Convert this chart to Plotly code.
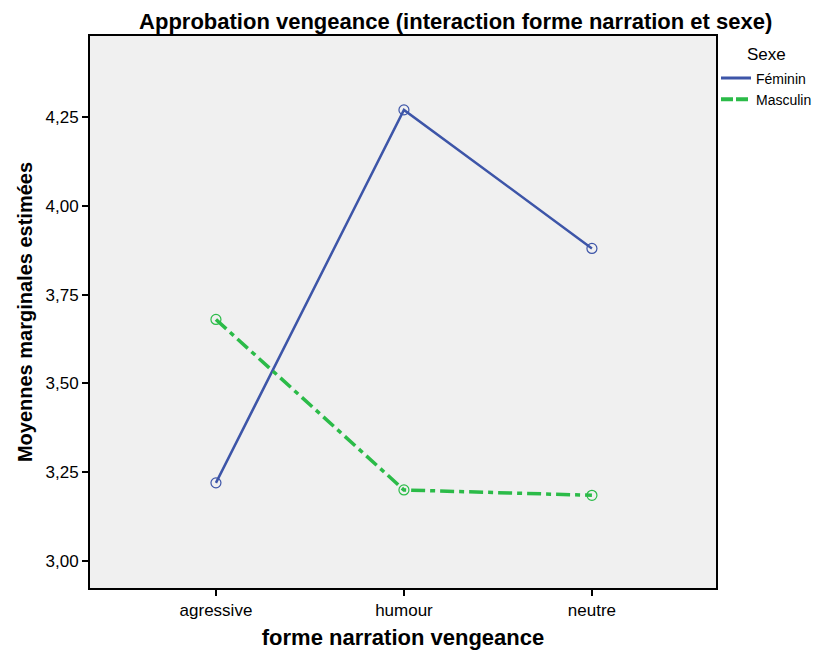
import plotly.graph_objects as go

# Estimated marginal means
categories = ['agressive', 'humour', 'neutre']
feminin = [3.22, 4.27, 3.88]
masculin = [3.68, 3.20, 3.185]
y_ticks = [3.00, 3.25, 3.50, 3.75, 4.00, 4.25]
y_tick_labels = ['3,00', '3,25', '3,50', '3,75', '4,00', '4,25']

font = 'Liberation Sans, Arial, sans-serif'
blue = '#3d55a8'
green = '#2bbb48'
green_dash = '14px,5px,5px,5px'

fig = go.Figure()

fig.add_trace(go.Scatter(
    x=[0, 1, 2], y=feminin, name='Féminin', mode='lines+markers', showlegend=False,
    line=dict(color=blue, width=2.5),
    marker=dict(symbol='circle-open', size=10, color=blue, line=dict(width=1.2)),
))
fig.add_trace(go.Scatter(
    x=[0, 1, 2], y=masculin, name='Masculin', mode='lines+markers', showlegend=False,
    line=dict(color=green, width=3.5, dash=green_dash),
    marker=dict(symbol='circle-open', size=10, color=green, line=dict(width=1.2)),
))
# legend entries show only the line style
fig.add_trace(go.Scatter(x=[None], y=[None], name='Féminin', mode='lines',
                         line=dict(color=blue, width=3)))
fig.add_trace(go.Scatter(x=[None], y=[None], name='Masculin', mode='lines',
                         line=dict(color=green, width=4, dash='12px,3px')))

# the page body has an 8px margin, so the figure is a bit smaller
fig.update_layout(
    width=826, height=642,
    paper_bgcolor='white', plot_bgcolor='#f0f0f0',
    margin=dict(l=82, r=118, t=28, b=62, autoexpand=False),
    font=dict(family=font, color='black'),
    title=dict(text='<b>Approbation vengeance (interaction forme narration et sexe)</b>',
               x=0.542, xref='container', xanchor='center',
               y=0.979, yref='container', yanchor='middle',
               font=dict(size=22, family=font)),
    legend=dict(x=1.0, xanchor='left', y=0.952, yanchor='top',
                font=dict(size=14), itemwidth=30,
                bgcolor='rgba(0,0,0,0)', tracegroupgap=0),
    showlegend=True,
    annotations=[dict(text='Sexe', x=1.081, y=0.9656, xref='paper', yref='paper',
                      xanchor='center', yanchor='middle', showarrow=False,
                      font=dict(size=17))],
)

fig.update_xaxes(
    range=[-0.67, 2.66], tickvals=[0, 1, 2], ticktext=categories,
    ticks='outside', ticklen=6, tickwidth=2, tickcolor='black',
    showline=True, linecolor='black', linewidth=2, mirror=True,
    showgrid=False, zeroline=False, tickfont=dict(size=17),
    title=dict(text='<b>forme narration vengeance</b>', font=dict(size=22), standoff=12),
)
fig.update_yaxes(
    range=[2.924, 4.478], tickvals=y_ticks, ticktext=y_tick_labels,
    ticks='outside', ticklen=6, tickwidth=2, tickcolor='black',
    showline=True, linecolor='black', linewidth=2, mirror=True,
    showgrid=False, zeroline=False, tickfont=dict(size=17),
    title=dict(text='<b>Moyennes marginales estimées</b>', font=dict(size=20), standoff=8),
)

fig.write_html('out.html')
